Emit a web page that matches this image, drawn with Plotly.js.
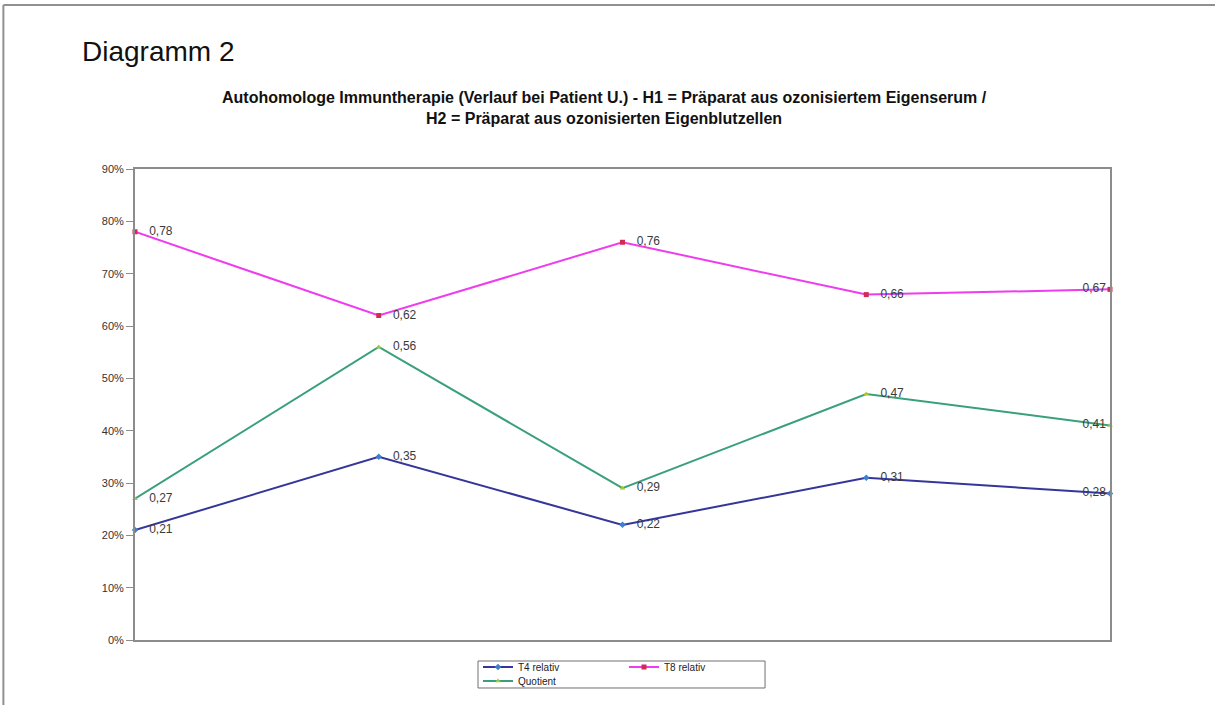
<!DOCTYPE html>
<html>
<head>
<meta charset="utf-8">
<script src="https://cdn.plot.ly/plotly-3.0.1.min.js"></script>
<style>html,body{margin:0;padding:0;background:#fff;}#chart{width:1215px;height:705px;}</style>
</head>
<body>
<div id="chart"></div>
<script>
var categories = [1, 2, 3, 4, 5];
var t4Relativ = [0.21, 0.35, 0.22, 0.31, 0.28];
var t8Relativ = [0.78, 0.62, 0.76, 0.66, 0.67];
var quotient = [0.27, 0.56, 0.29, 0.47, 0.41];
var seriesNames = ['T4 relativ', 'T8 relativ', 'Quotient'];
var yTickValues = [0, 0.1, 0.2, 0.3, 0.4, 0.5, 0.6, 0.7, 0.8, 0.9];

var labelPos = ['middle right', 'middle right', 'middle right', 'middle right', 'middle left'];
var labelFont = {family: 'Liberation Sans, Arial, sans-serif', size: 12, color: '#3a3a3a'};

function series(name, y, lineColor, markerColor, symbol, legendId) {
  return {
    x: categories, y: y, name: name, legend: legendId,
    type: 'scatter', mode: 'lines+markers+text',
    line: {color: lineColor, width: 2},
    marker: {color: markerColor, size: 5, symbol: symbol},
    texttemplate: '   %{y:.2f}',
    textposition: labelPos,
    textfont: labelFont,
    cliponaxis: false,
    hoverinfo: 'none'
  };
}

var data = [
  series(seriesNames[0], t4Relativ, '#35359a', '#3d7fd0', 'diamond', 'legend'),
  series(seriesNames[1], t8Relativ, '#ee3cee', '#d02a55', 'square', 'legend'),
  series(seriesNames[2], quotient, '#3aa07a', '#a6c832', 'triangle-up', 'legend2')
];

var legendFont = {family: 'Liberation Sans, Arial, sans-serif', size: 10, color: '#222'};

var layout = {
  width: 1215, height: 705,
  separators: ',.',
  paper_bgcolor: '#ffffff', plot_bgcolor: '#ffffff',
  margin: {l: 135, r: 105, t: 169, b: 65, autoexpand: false},
  showlegend: true,
  legend: {
    orientation: 'h', x: 0.3518, xanchor: 'left', y: -0.0573, yanchor: 'middle',
    borderwidth: 0, bgcolor: 'rgba(0,0,0,0)', font: legendFont,
    entrywidth: 101, tracegroupgap: 0
  },
  legend2: {
    orientation: 'h', x: 0.3518, xanchor: 'left', y: -0.0870, yanchor: 'middle',
    borderwidth: 0, bgcolor: 'rgba(0,0,0,0)', font: legendFont,
    entrywidth: 101, tracegroupgap: 0
  },
  xaxis: {
    type: 'linear', range: [1, 5], showticklabels: false, ticks: '',
    showgrid: false, zeroline: false,
    showline: true, mirror: true, linecolor: '#8c8c8c', linewidth: 2
  },
  yaxis: {
    range: [0, 0.9], tickvals: yTickValues, tickformat: '.0%',
    showgrid: false, zeroline: false,
    showline: true, mirror: true, linecolor: '#8c8c8c', linewidth: 2,
    ticks: 'outside', ticklen: 7, tickcolor: '#8c8c8c', tickwidth: 1,
    tickfont: {family: 'Liberation Sans, Arial, sans-serif', size: 11, color: '#333'}
  },
  annotations: [
    {text: 'Diagramm 2', xref: 'paper', yref: 'paper', x: -0.056, y: 1.25, xanchor: 'left', yanchor: 'middle',
      showarrow: false, font: {family: 'Liberation Sans, Arial, sans-serif', size: 28, color: '#111'}},
    {text: '<b>Autohomologe Immuntherapie (Verlauf bei Patient U.) - H1 = Präparat aus ozonisiertem Eigenserum /<br>H2 = Präparat aus ozonisierten Eigenblutzellen</b>',
      xref: 'paper', yref: 'paper', x: 0.482, y: 1.13, xanchor: 'center', yanchor: 'middle',
      showarrow: false, align: 'center',
      font: {family: 'Liberation Sans, Arial, sans-serif', size: 16, color: '#111'}}
  ],
  shapes: [
    {type: 'line', xref: 'paper', yref: 'paper', x0: -0.135, x1: 1.11, y0: 1.348, y1: 1.348,
      line: {color: '#909090', width: 2}},
    {type: 'line', xref: 'paper', yref: 'paper', x0: -0.135, x1: -0.135, y0: -0.14, y1: 1.348,
      line: {color: '#909090', width: 2}},
    {type: 'rect', xref: 'paper', yref: 'paper', x0: 0.3518, x1: 0.6462, y0: -0.1019, y1: -0.0446,
      line: {color: '#707070', width: 1}}
  ]
};

Plotly.newPlot('chart', data, layout, {displayModeBar: false, staticPlot: true});
</script>
</body>
</html>
